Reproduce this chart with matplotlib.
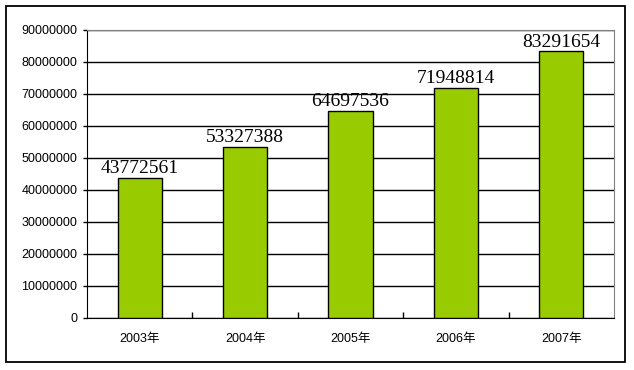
import matplotlib.pyplot as plt
from matplotlib.patches import Rectangle
import numpy as np

years = ['2003年', '2004年', '2005年', '2006年', '2007年']
values = [43772561, 53327388, 64697536, 71948814, 83291654]
yticks = np.arange(0, 90000001, 10000000)

plt.rcParams['font.family'] = ['Liberation Sans', 'Noto Sans CJK SC']

fig = plt.figure(figsize=(6.34, 3.7), dpi=100)
ax = fig.add_axes([87/634, 1-318/370, (614-87)/634, (318-30)/370])

# outer border of chart
fig.patches.append(Rectangle((6/634, 1-362/370), (625-6)/634, (362-6)/370,
                             transform=fig.transFigure, fill=False,
                             edgecolor='black', linewidth=1.3))

x = np.arange(len(years))
ax.bar(x, values, width=0.42, color='#99CC00', edgecolor='black',
       linewidth=1, zorder=3)
for xi, v in zip(x, values):
    ax.text(xi, v + 300000, str(v), ha='center', va='bottom',
            family='Liberation Serif', fontsize=14, zorder=4)

ax.set_xlim(-0.5, len(years) - 0.5)
ax.set_ylim(0, 90000000)
ax.set_yticks(yticks)
ax.set_yticklabels([str(t) for t in yticks], fontsize=9)
ax.set_xticks(x)
ax.set_xticklabels(years, fontsize=9)
ax.set_xticks(np.arange(0.5, len(years) - 1, 1), minor=True)
ax.tick_params(axis='x', which='major', length=0, pad=11)
ax.tick_params(axis='x', which='minor', direction='in', length=4, width=1)
ax.tick_params(axis='y', length=3, width=1, pad=4)

ax.yaxis.grid(True, color='black', linewidth=1, zorder=0)
ax.set_axisbelow(True)
for s in ['top', 'right']:
    ax.spines[s].set_color('#808080')
for s in ['left', 'bottom']:
    ax.spines[s].set_color('black')

fig.savefig('out.png', dpi=100)
